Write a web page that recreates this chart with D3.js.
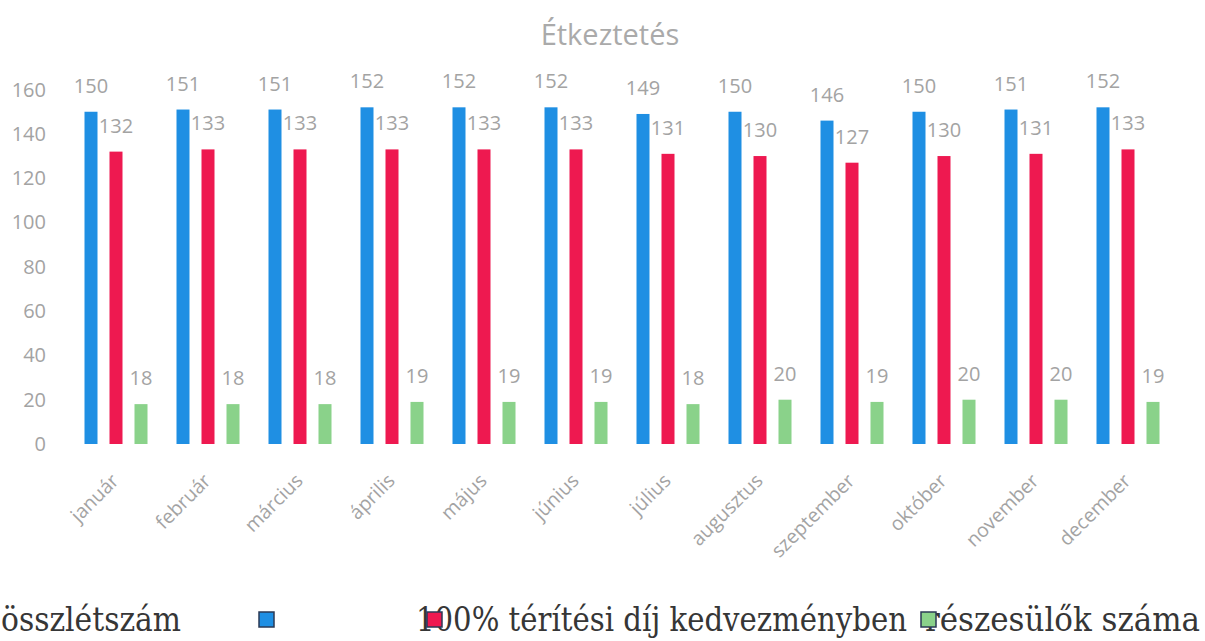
<!DOCTYPE html>
<html lang="hu">
  <head>
    <meta charset="utf-8" />
    <title>Étkeztetés</title>
    <script src="https://cdn.jsdelivr.net/npm/d3@7/dist/d3.min.js"></script>
    <style>
      body { margin: 0; background: #fff; }
      .axis text, .val, .title { font-family: "Open Sans", sans-serif; fill: #a3a3a3; }
      .legend text { font-family: "DejaVu Serif Condensed", "DejaVu Serif", serif; fill: #363636; }
    </style>
  </head>
  <body>
    <script>
      // data
      var months = ["január", "február", "március", "április", "május", "június",
                    "július", "augusztus", "szeptember", "október", "november", "december"];
      var osszletszam = [150, 151, 151, 152, 152, 152, 149, 150, 146, 150, 151, 152];
      var kedvezmeny = [132, 133, 133, 133, 133, 133, 131, 130, 127, 130, 131, 133];
      var reszesulok = [18, 18, 18, 19, 19, 19, 18, 20, 19, 20, 20, 19];
      var yTicks = [0, 20, 40, 60, 80, 100, 120, 140, 160];

      var series = [
        { key: "ossz", values: osszletszam, color: "#1f8fe3" },
        { key: "kedv", values: kedvezmeny, color: "#ee1950" },
        { key: "resz", values: reszesulok, color: "#8ad28a" }
      ];

      var W = 1205, H = 641;
      var svg = d3.select("body").append("svg").attr("width", W).attr("height", H);

      var x = d3.scaleBand().domain(months).range([70, 1174]);
      var xs = d3.scalePoint().domain(series.map(s => s.key)).range([-25, 25]);
      var y = d3.scaleLinear().domain([0, 160]).range([444, 89.6]);
      var barW = 13;

      svg.append("text").attr("class", "title")
        .attr("x", 610).attr("y", 45)
        .attr("text-anchor", "middle")
        .style("font-size", "29px")
        .style("fill", "#aaaaaa")
        .text("Étkeztetés");

      // y axis, labels only
      var gy = svg.append("g").attr("class", "axis")
        .attr("transform", "translate(46,0)")
        .call(d3.axisLeft(y).tickValues(yTicks).tickSize(0).tickPadding(0));
      gy.select(".domain").remove();
      gy.selectAll("text").style("font-size", "20px").attr("fill", null);

      // bars
      var groups = svg.selectAll("g.series")
        .data(series).join("g").attr("class", "series");

      groups.selectAll("rect")
        .data(s => s.values.map((v, i) => ({ m: months[i], v: v, k: s.key, c: s.color })))
        .join("rect")
        .attr("x", d => x(d.m) + x.bandwidth() / 2 + xs(d.k) - barW / 2)
        .attr("y", d => y(d.v))
        .attr("width", barW)
        .attr("height", d => y(0) - y(d.v))
        .attr("fill", d => d.c);

      groups.selectAll("text.val")
        .data(s => s.values.map((v, i) => ({ m: months[i], v: v, k: s.key })))
        .join("text").attr("class", "val")
        .attr("x", d => x(d.m) + x.bandwidth() / 2 + xs(d.k))
        .attr("y", d => y(d.v) - 19)
        .attr("text-anchor", "middle")
        .style("font-size", "20px")
        .text(d => d.v);

      // rotated month labels
      svg.append("g").attr("class", "axis")
        .selectAll("text")
        .data(months).join("text")
        .attr("transform", d => `translate(${x(d) + x.bandwidth() / 2 + 4},${482}) rotate(-45)`)
        .attr("text-anchor", "end")
        .style("font-size", "19.5px")
        .text(d => d);

      // legend (as printed, entries overlapping)
      var lg = svg.append("g").attr("class", "legend");
      lg.append("text").attr("x", 1).attr("y", 631)
        .style("font-size", "33px").attr("textLength", 180).attr("lengthAdjust", "spacingAndGlyphs")
        .text("összlétszám");
      lg.append("text").attr("x", 416).attr("y", 631)
        .style("font-size", "33px").attr("textLength", 491).attr("lengthAdjust", "spacingAndGlyphs")
        .text("100% térítési díj kedvezményben");
      lg.append("text").attr("x", 925).attr("y", 631)
        .style("font-size", "33px").attr("textLength", 275).attr("lengthAdjust", "spacingAndGlyphs")
        .text("részesülők száma");

      var sq = [
        { x: 259, c: series[0].color },
        { x: 427, c: series[1].color },
        { x: 921, c: series[2].color }
      ];
      lg.selectAll("rect").data(sq).join("rect")
        .attr("x", d => d.x).attr("y", 612)
        .attr("width", 15).attr("height", 15)
        .attr("fill", d => d.c)
        .attr("stroke", "#2b3a55").attr("stroke-width", 1.5);
    </script>
  </body>
</html>
